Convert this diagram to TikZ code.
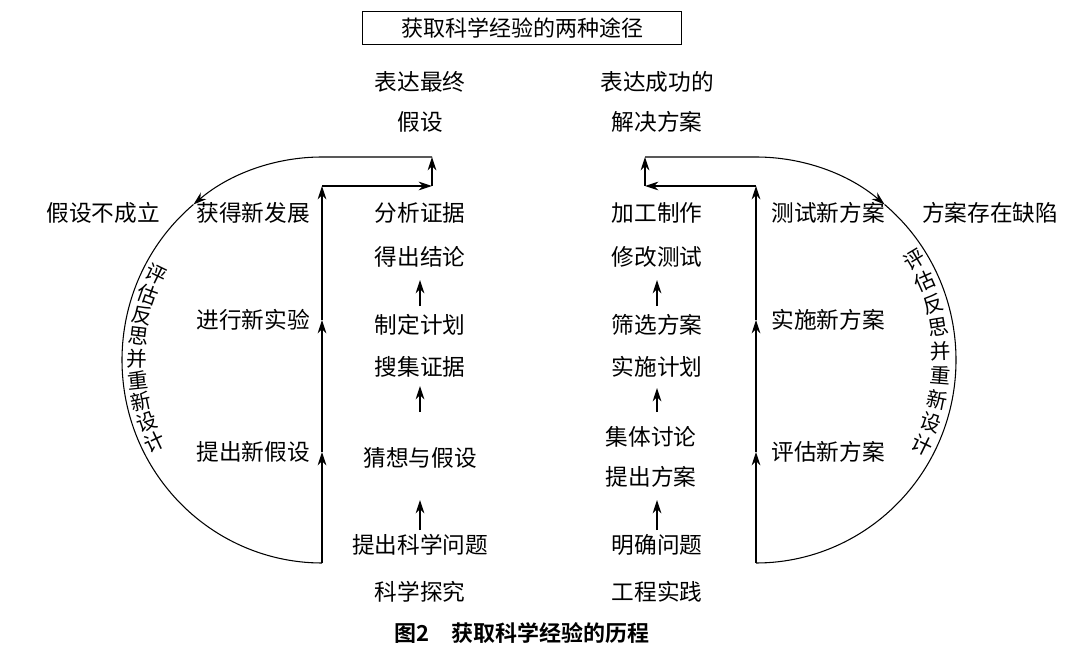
\documentclass[tikz,border=0pt]{standalone}
\usepackage{fontspec}
\setmainfont{Noto Sans CJK SC}
\newfontfamily\cjkbold[BoldFont={Noto Sans CJK SC Bold}]{Noto Sans CJK SC}
\usetikzlibrary{arrows.meta, positioning, calc}
\tikzset{
    txt/.style={font=\fontsize{17}{20}\selectfont, inner sep=1pt},
    arc char/.style={font=\fontsize{15.5}{17}\selectfont, inner sep=0pt},
    titlebox/.style={rectangle, draw, thick, minimum width=239pt, minimum height=25pt, font=\fontsize{16.5}{18}\selectfont},
    arrow/.style={-{Stealth[length=10pt,width=6.5pt]}, thick},
    line/.style={thick}
}
\begin{document}
\begin{tikzpicture}[x=0.75pt, y=-0.75pt]
    \useasboundingbox (0,0) rectangle (1080,666);
    % Title
    \node[titlebox] (title) at (522,28) {获取科学经验的两种途径};
    \node[txt] (goalL1) at (420,82) {表达最终};
    \node[txt] (goalL2) at (420,122) {假设};
    \node[txt] (goalR1) at (657,82) {表达成功的};
    \node[txt] (goalR2) at (657,122) {解决方案};

    % Science inquiry column
    \node[txt] (fail) at (103,213) {假设不成立};
    \node[txt] (newdev) at (253,213) {获得新发展};
    \node[txt] (analyse) at (420,213) {分析证据};
    \node[txt] (conclude) at (420,257) {得出结论};
    \node[txt] (plan) at (420,325) {制定计划};
    \node[txt] (collect) at (420,367) {搜集证据};
    \node[txt] (guess) at (420,458) {猜想与假设};
    \node[txt] (question) at (420,545) {提出科学问题};
    \node[txt] (science) at (420,592) {科学探究};
    \node[txt] (newexp) at (253,320) {进行新实验};
    \node[txt] (newhyp) at (253,452) {提出新假设};

    % Engineering practice column
    \node[txt] (make) at (657,213) {加工制作};
    \node[txt] (modify) at (657,257) {修改测试};
    \node[txt] (select) at (657,325) {筛选方案};
    \node[txt] (implement) at (657,367) {实施计划};
    \node[txt] (discuss) at (651,437) {集体讨论};
    \node[txt] (propose) at (651,477) {提出方案};
    \node[txt] (define) at (657,545) {明确问题};
    \node[txt] (engineer) at (657,592) {工程实践};
    \node[txt] (test) at (828,213) {测试新方案};
    \node[txt] (defect) at (990,213) {方案存在缺陷};
    \node[txt] (newimpl) at (828,320) {实施新方案};
    \node[txt] (neweval) at (828,452) {评估新方案};

    % Inner arrows
    \draw[arrow] (question.north |- 0,530) -- (guess.north |- 0,500);
    \draw[arrow] (collect.north |- 0,412) -- (collect.north |- 0,386);
    \draw[arrow] (plan.north |- 0,306) -- (plan.north |- 0,280);
    \draw[arrow] (define.north |- 0,530) -- (define.north |- 0,500);
    \draw[arrow] (implement.north |- 0,412) -- (implement.north |- 0,388);
    \draw[arrow] (select.north |- 0,306) -- (select.north |- 0,280);

    % Left loop
    \coordinate (lb) at (322,563);
    \coordinate (l1) at (322,452);
    \coordinate (l2) at (322,320);
    \coordinate (l3) at (322,186);
    \coordinate (l4) at (432,186);
    \coordinate (l5) at (432,157);
    \coordinate (lt) at (322,157);
    \coordinate (lc) at (322,360);
    \draw[arrow] (lb) -- (l1);
    \draw[arrow] (l1) -- (l2);
    \draw[arrow] (l2) -- (l3);
    \draw[arrow] (l3) -- (l4);
    \draw[arrow] (l4) -- (l5);
    \draw[arrow] (l5) -- (lt) arc[start angle=270, end angle=230, x radius=200, y radius=203] coordinate (la);
    \draw[line] (la) arc[start angle=230, end angle=90, x radius=200, y radius=203];

    % Right loop
    \coordinate (rb) at (756,563);
    \coordinate (r1) at (756,452);
    \coordinate (r2) at (756,320);
    \coordinate (r3) at (756,186);
    \coordinate (r4) at (645,186);
    \coordinate (r5) at (645,157);
    \coordinate (rt) at (756,157);
    \coordinate (rc) at (756,360);
    \draw[arrow] (rb) -- (r1);
    \draw[arrow] (r1) -- (r2);
    \draw[arrow] (r2) -- (r3);
    \draw[arrow] (r3) -- (r4);
    \draw[arrow] (r4) -- (r5);
    \draw[arrow] (r5) -- (rt) arc[start angle=270, end angle=310, x radius=200, y radius=203] coordinate (ra);
    \draw[line] (ra) arc[start angle=310, end angle=450, x radius=200, y radius=203];

    % Text along the arcs
    \foreach \ch [count=\i from 0] in {评,估,反,思,并,重,新,设,计} {
        \pgfmathsetmacro\ang{206-\i*51/8}
        \node[arc char, rotate=180-\ang] at ($(lc)+(\ang:185 and 195)$) {\ch};
        \pgfmathsetmacro\angr{329+\i*57/8}
        \node[arc char, rotate=360-\angr] at ($(rc)+(\angr:185 and 195)$) {\ch};
    }

    % Caption
    \node[font=\cjkbold\bfseries\fontsize{16.5}{18}\selectfont] (caption) at (522,633) {图2\quad 获取科学经验的历程};
\end{tikzpicture}
\end{document}
